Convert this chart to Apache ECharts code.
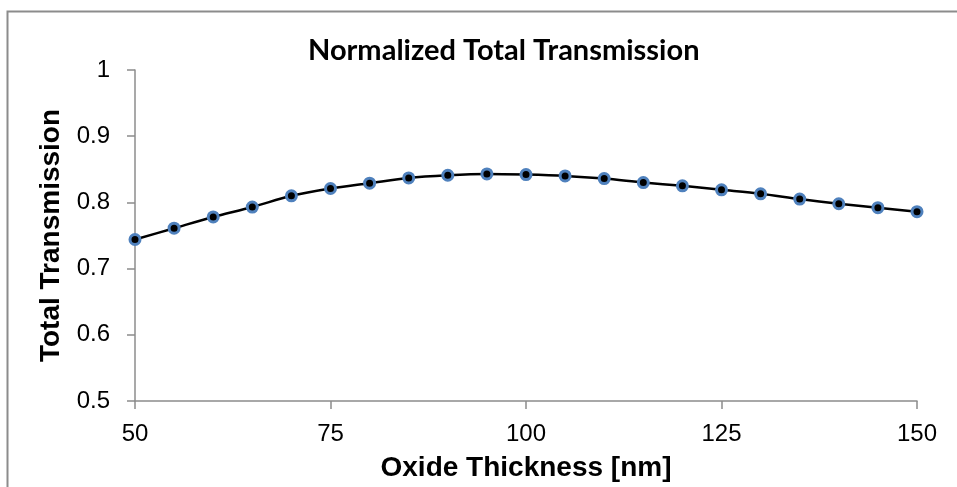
<!DOCTYPE html>
<html>
<head>
<meta charset="utf-8">
<script src="https://cdn.jsdelivr.net/npm/echarts@6/dist/echarts.min.js"></script>
<style>
  html, body { margin: 0; padding: 0; background: #fff; }
  #chart { width: 957px; height: 487px; }
</style>
</head>
<body>
<div id="chart"></div>
<script>
  // oxide thickness [nm]
  var thickness = [50, 55, 60, 65, 70, 75, 80, 85, 90, 95, 100, 105, 110, 115, 120, 125, 130, 135, 140, 145, 150]
  // normalized total transmission
  var transmission = [0.744, 0.761, 0.778, 0.793, 0.810, 0.821, 0.829, 0.837, 0.841, 0.843, 0.842,
    0.840, 0.836, 0.830, 0.825, 0.819, 0.813, 0.805, 0.798, 0.792, 0.786]

  var points = thickness.map(function (x, i) { return [x, transmission[i]] })

  var chart = echarts.init(document.getElementById('chart'))
  var option = {
    animation: false,
    backgroundColor: '#fff',
    title: {
      text: 'Normalized Total Transmission',
      left: 303,
      top: 31,
      textStyle: {
        fontFamily: 'Lato',
        fontWeight: 'bold',
        fontSize: 29,
        color: '#000'
      }
    },
    graphic: [{
      type: 'rect',
      left: 5,
      top: 9,
      shape: { width: 1000, height: 600 },
      style: { fill: null, stroke: '#8c8c8c', lineWidth: 2 },
      silent: true
    }],
    grid: { left: 135, right: 40, top: 70, bottom: 86 },
    xAxis: {
      type: 'value',
      min: 50,
      max: 150,
      interval: 25,
      name: 'Oxide Thickness [nm]',
      nameLocation: 'middle',
      nameGap: 53,
      nameTextStyle: { fontFamily: 'Liberation Sans', fontWeight: 'bold', fontSize: 28, color: '#000' },
      axisLine: { lineStyle: { color: '#8c8c8c', width: 1.5 } },
      axisTick: { length: 8, lineStyle: { color: '#8c8c8c', width: 1.5 } },
      axisLabel: { fontFamily: 'Liberation Sans', fontSize: 24, color: '#000', margin: 21 },
      splitLine: { show: false }
    },
    yAxis: {
      type: 'value',
      min: 0.5,
      max: 1,
      interval: 0.1,
      name: 'Total Transmission',
      nameLocation: 'middle',
      nameGap: 69,
      nameTextStyle: { fontFamily: 'Liberation Sans', fontWeight: 'bold', fontSize: 28, color: '#000' },
      axisLine: { show: true, lineStyle: { color: '#8c8c8c', width: 1.5 } },
      axisTick: { show: true, length: 8, lineStyle: { color: '#8c8c8c', width: 1.5 } },
      axisLabel: { fontFamily: 'Liberation Sans', fontSize: 24, color: '#000', margin: 25 },
      splitLine: { show: false }
    },
    series: [{
      type: 'line',
      data: points,
      smooth: 0.3,
      symbol: 'circle',
      symbolSize: 10,
      lineStyle: { color: '#000', width: 2.5 },
      itemStyle: { color: '#000', borderColor: '#4f81bd', borderWidth: 3 }
    }]
  }
  chart.setOption(option)
</script>
</body>
</html>
